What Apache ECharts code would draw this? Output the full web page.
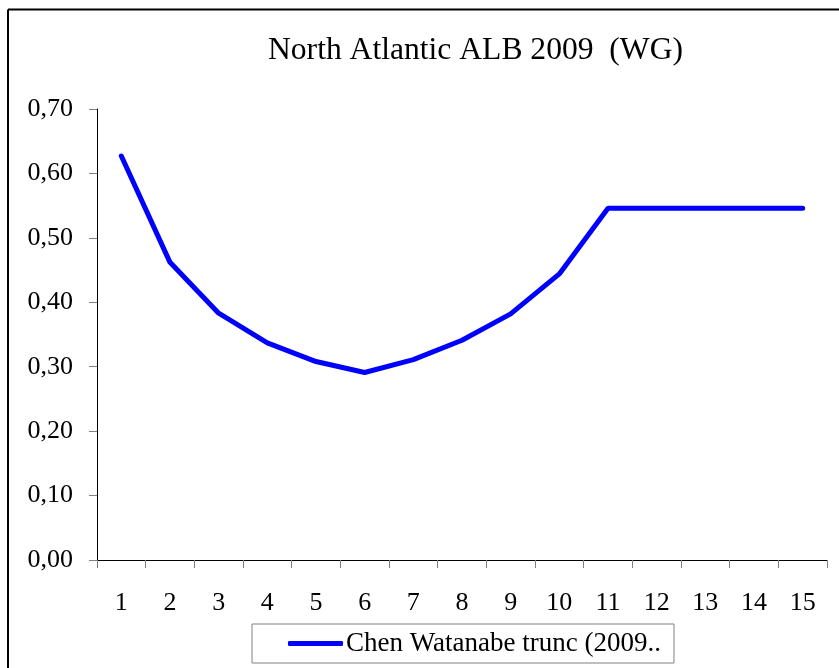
<!DOCTYPE html>
<html>
<head>
<meta charset="utf-8">
<script src="https://cdn.jsdelivr.net/npm/echarts@6/dist/echarts.min.js"></script>
<style>
  html, body { margin: 0; padding: 0; background: #fff; }
  #chart { width: 839px; height: 668px; }
</style>
</head>
<body>
<div id="chart"></div>
<script>
// Ages 1..15 on the category axis
const ages = ['1','2','3','4','5','6','7','8','9','10','11','12','13','14','15'];
// Natural mortality by age
const mortality = [0.627, 0.462, 0.383, 0.337, 0.308, 0.291, 0.311, 0.341, 0.382, 0.444, 0.546, 0.546, 0.546, 0.546, 0.546];
const seriesName = 'Chen Watanabe trunc (2009..';
const chartTitle = 'North Atlantic ALB 2009  (WG)';

const serif = '"Liberation Serif", "Times New Roman", "DejaVu Serif", serif';

const chart = echarts.init(document.getElementById('chart'), null, { renderer: 'canvas' });

chart.setOption({
  backgroundColor: '#ffffff',
  animation: false,
  title: {
    text: chartTitle,
    left: 268,
    top: 35,
    padding: 0,
    textStyle: { fontFamily: serif, fontSize: 31.6, fontWeight: 'normal', color: '#000' }
  },
  legend: {
    data: [seriesName],
    left: 252,
    top: 624,
    padding: [6, 13, 6, 36],
    itemWidth: 55,
    itemHeight: 5,
    itemGap: 0,
    icon: 'roundRect',
    borderColor: '#808080',
    borderWidth: 1,
    textStyle: { fontFamily: serif, fontSize: 27, color: '#000', padding: [0, 0, 0, -2], lineHeight: 26 }
  },
  graphic: [
    { type: 'line', shape: { x1: 8, y1: 9.5, x2: 839, y2: 9.5 }, style: { stroke: '#000', lineWidth: 2 } },
    { type: 'line', shape: { x1: 8, y1: 9.5, x2: 8, y2: 668 }, style: { stroke: '#000', lineWidth: 2 } }
  ],
  grid: {
    left: 97,
    right: 12,
    top: 109,
    bottom: 108,
    outerBoundsMode: 'none'
  },
  xAxis: {
    type: 'category',
    data: ages,
    boundaryGap: true,
    axisLine: { lineStyle: { color: '#000', width: 1 } },
    axisTick: { show: true, length: 8, lineStyle: { color: '#808080' } },
    axisLabel: { margin: 30, fontFamily: serif, fontSize: 26, color: '#000' },
    splitLine: { show: false }
  },
  yAxis: {
    type: 'value',
    min: 0,
    max: 0.7,
    interval: 0.1,
    axisLine: { show: true, lineStyle: { color: '#000', width: 1 } },
    axisTick: { show: true, length: 8, lineStyle: { color: '#808080' } },
    axisLabel: {
      margin: 24,
      fontFamily: serif,
      fontSize: 26,
      color: '#000',
      formatter: v => v.toFixed(2).replace('.', ',')
    },
    splitLine: { show: false }
  },
  series: [{
    name: seriesName,
    type: 'line',
    data: mortality,
    showSymbol: false,
    symbol: 'none',
    color: '#0000ff',
    lineStyle: { color: '#0000ff', width: 5, cap: 'round' }
  }]
});
</script>
</body>
</html>
